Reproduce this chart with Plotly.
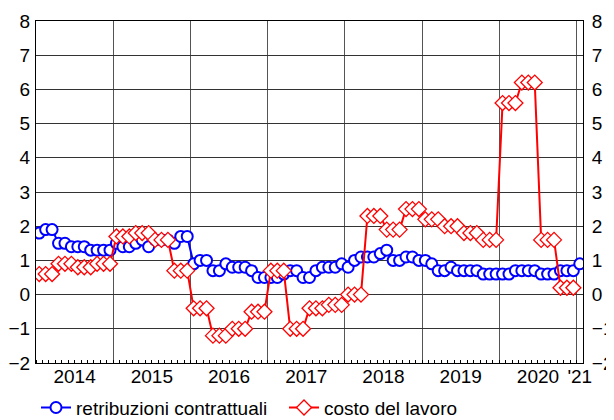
import numpy as np
import plotly.graph_objects as go

# ---- data ----
months = [f"{y}-{m:02d}" for y in range(2014, 2021) for m in range(1, 13)] + ["2021-01"]

retribuzioni = [
    1.8, 1.9, 1.9, 1.5, 1.5, 1.4, 1.4, 1.4, 1.3, 1.3, 1.3, 1.3,   # 2014
    1.5, 1.4, 1.4, 1.5, 1.6, 1.4, 1.6, 1.6, 1.6, 1.5, 1.7, 1.7,   # 2015
    0.9, 1.0, 1.0, 0.7, 0.7, 0.9, 0.8, 0.8, 0.8, 0.7, 0.5, 0.5,   # 2016
    0.5, 0.5, 0.6, 0.7, 0.7, 0.5, 0.5, 0.7, 0.8, 0.8, 0.8, 0.9,   # 2017
    0.8, 1.0, 1.1, 1.1, 1.1, 1.2, 1.3, 1.0, 1.0, 1.1, 1.1, 1.0,   # 2018
    1.0, 0.9, 0.7, 0.7, 0.8, 0.7, 0.7, 0.7, 0.7, 0.6, 0.6, 0.6,   # 2019
    0.6, 0.6, 0.7, 0.7, 0.7, 0.7, 0.6, 0.6, 0.6, 0.7, 0.7, 0.7,   # 2020
    0.9,                                                          # 2021
]

# quarterly values (each quarter shown for its three months)
costo_trimestrale = [
    0.6, 0.9, 0.8, 0.9,     # 2014
    1.7, 1.8, 1.6, 0.7,     # 2015
    -0.4, -1.2, -1.0, -0.5, # 2016
    0.7, -1.0, -0.4, -0.3,  # 2017
    0.0, 2.3, 1.9, 2.5,     # 2018
    2.2, 2.0, 1.8, 1.6,     # 2019
    5.6, 6.2, 1.6, 0.2,     # 2020
]

year_labels = ["2014", "2015", "2016", "2017", "2018", "2019", "2020", "'21"]
y_ticks = list(range(-2, 9))

# ---- positions derived from the month index ----
x_month = np.arange(len(months)) + 0.5
costo_mensile = np.repeat(costo_trimestrale, 3)
x_costo = x_month[:len(costo_mensile)]

n_years = 7
year_bounds = [12 * k for k in range(1, n_years + 1)]
mid_years = [12 * k + 6 for k in range(n_years)]
label_pos = mid_years + [12 * n_years + 0.5]

FONT = "Liberation Sans, Arial, sans-serif"
TICKFONT = dict(family=FONT, size=19, color="black")

fig = go.Figure()
fig.add_trace(go.Scatter(
    x=x_month, y=retribuzioni, mode="lines+markers",
    name="retribuzioni contrattuali",
    line=dict(color="#0000FF", width=2),
    marker=dict(symbol="circle", size=11, color="white",
                line=dict(color="#0000FF", width=2)),
    xaxis="x", yaxis="y",
))
fig.add_trace(go.Scatter(
    x=x_costo, y=costo_mensile, mode="lines+markers",
    name="costo del lavoro",
    line=dict(color="#FF0000", width=2),
    marker=dict(symbol="diamond", size=11.5, color="white",
                line=dict(color="#FF0000", width=1.3)),
    xaxis="x2", yaxis="y2",
))

# the page body adds an 8px offset, so the figure is sized to fit the window
fig.update_layout(
    width=606, height=412,
    margin=dict(l=28, r=31, t=13, b=57, autoexpand=False),
    paper_bgcolor="white", plot_bgcolor="white",
    font=dict(family=FONT, size=18, color="black"),
    showlegend=True,
    legend=dict(orientation="h", x=0, xanchor="left",
                yref="container", y=0.03, yanchor="middle",
                font=dict(family=FONT, size=19, color="black"),
                bgcolor="rgba(0,0,0,0)", itemwidth=30, entrywidth=203),
    xaxis=dict(
        range=[0, 85], tickmode="array", tickvals=year_bounds,
        showticklabels=False, ticks="", showgrid=True, automargin=False,
        gridcolor="#555555", gridwidth=1.3, zeroline=False,
        showline=True, linecolor="black", linewidth=1.3, mirror=True,
        minor=dict(tickmode="linear", tick0=0, dtick=1, ticks="inside",
                   ticklen=3, tickwidth=1, tickcolor="black", showgrid=False),
    ),
    xaxis2=dict(
        overlaying="x", matches="x", anchor="y2", side="bottom",
        tickmode="array", tickvals=label_pos, ticktext=year_labels,
        ticks="", showgrid=False, showline=False, zeroline=False,
        automargin=False, tickfont=TICKFONT,
    ),
    xaxis3=dict(
        overlaying="x", matches="x", anchor="y", side="bottom",
        tickmode="array", tickvals=mid_years, ticks="inside", ticklen=6,
        tickwidth=1, tickcolor="black", showticklabels=False,
        showgrid=False, showline=False, zeroline=False, automargin=False,
    ),
    yaxis=dict(
        range=[-2, 8], tickmode="array", tickvals=y_ticks,
        showgrid=True, gridcolor="#333333", gridwidth=1, zeroline=False,
        showline=True, linecolor="black", linewidth=1.3, mirror=True,
        ticks="outside", ticklen=1, tickcolor="rgba(0,0,0,0)",
        automargin=False, tickfont=TICKFONT,
    ),
    yaxis2=dict(
        overlaying="y", matches="y", anchor="x2", side="right",
        tickmode="array", tickvals=y_ticks, showgrid=False, zeroline=False,
        showline=False, ticks="outside", ticklen=4,
        tickcolor="rgba(0,0,0,0)", automargin=False, tickfont=TICKFONT,
    ),
)

fig.write_html("out.html")
